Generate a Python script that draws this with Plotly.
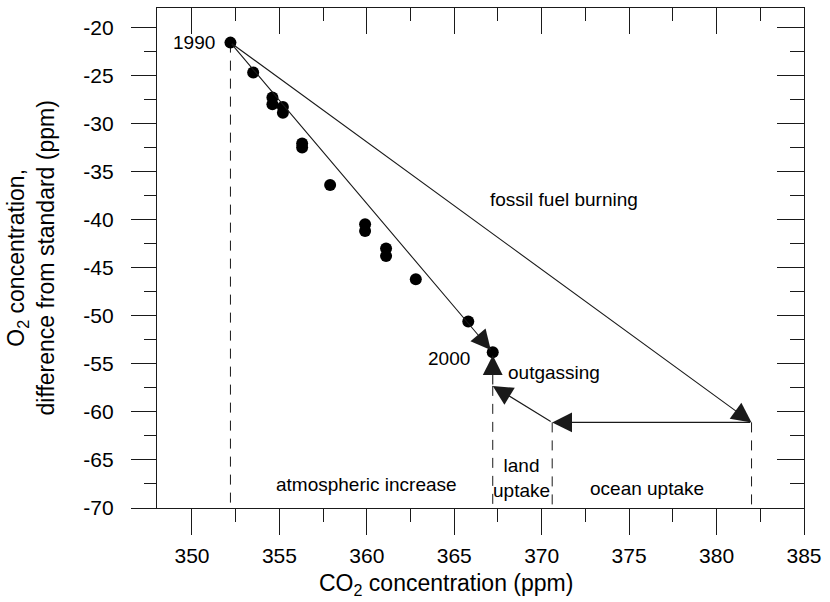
import plotly.graph_objects as go

# Observed annual points: CO2 (ppm) against O2 difference from standard (ppm)
co2_obs = [352.2, 353.5, 354.6, 354.6, 355.2, 355.2, 356.3, 356.3, 357.9,
           359.9, 359.9, 361.1, 361.1, 362.8, 365.8, 367.2]
o2_obs = [-21.6, -24.7, -27.3, -28.0, -28.3, -28.9, -32.1, -32.5, -36.4,
          -40.5, -41.2, -43.0, -43.8, -46.2, -50.6, -53.8]

# Budget vertices: 1990 start, 2000 end, fossil-fuel end, ocean end, land end
vertex_names = ["1990", "2000", "fossil", "ocean", "land"]
vertex_co2 = [352.2, 367.2, 382.0, 370.6, 367.2]
vertex_o2 = [-21.6, -53.8, -61.1, -61.1, -57.3]
V = {n: (c, o) for n, c, o in zip(vertex_names, vertex_co2, vertex_o2)}

# Arrows as (tail, head, standoff)
arrows = [
    ("1990", "fossil", 0),
    ("fossil", "ocean", 0),
    ("ocean", "land", 0),
    ("land", "2000", 3),
    ("1990", "2000", 3),
]

# Vertical dashed guides dropped from these vertices to the bottom axis
guide_vertices = ["1990", "land", "ocean", "fossil"]

x_range = [348, 385]
y_range = [-70, -18]
x_ticks = [350, 355, 360, 365, 370, 375, 380, 385]
y_ticks = [-70, -65, -60, -55, -50, -45, -40, -35, -30, -25, -20]

FONT = "Liberation Sans, Arial, Helvetica, sans-serif"
INK = "#1a1a1a"

fig = go.Figure()

for name in guide_vertices:
    c, o = V[name]
    fig.add_trace(go.Scatter(
        x=[c, c], y=[o, y_range[0]], mode="lines",
        line=dict(color=INK, width=1, dash="10px,8px"),
        hoverinfo="skip", showlegend=False))

fig.add_trace(go.Scatter(
    x=co2_obs, y=o2_obs, mode="markers",
    marker=dict(color="black", size=12),
    showlegend=False))

# Empty trace so the mirrored top/right axes are drawn
fig.add_trace(go.Scatter(x=[], y=[], xaxis="x2", yaxis="y2",
                         showlegend=False, hoverinfo="skip"))

annotations = []
for tail, head, standoff in arrows:
    tx, ty = V[tail]
    hx, hy = V[head]
    annotations.append(dict(
        x=hx, y=hy, ax=tx, ay=ty, xref="x", yref="y", axref="x", ayref="y",
        text="", showarrow=True, arrowhead=2, arrowsize=3.6, arrowwidth=1.1,
        arrowcolor=INK, standoff=standoff))

label_font = dict(family=FONT, size=19, color="black")
labels = [
    dict(x=V["1990"][0], y=V["1990"][1], text="1990", xanchor="right",
         yanchor="middle", xshift=-13),
    dict(x=V["2000"][0], y=V["2000"][1], text="2000", xanchor="right",
         yanchor="middle", xshift=-21, yshift=-6),
    dict(x=367.95, y=-55.9, text="outgassing", xanchor="left", yanchor="middle"),
    dict(x=371.3, y=-37.9, text="fossil fuel burning", xanchor="center",
         yanchor="middle"),
    dict(x=360.0, y=-67.6, text="atmospheric increase", xanchor="center",
         yanchor="middle"),
    dict(x=368.85, y=-66.85, text="land<br>uptake", xanchor="center",
         yanchor="middle"),
    dict(x=376.0, y=-68.0, text="ocean uptake", xanchor="center",
         yanchor="middle"),
]
for lab in labels:
    lab.update(xref="x", yref="y", showarrow=False, font=label_font)
    annotations.append(lab)

# Axis titles placed in paper coordinates
annotations.append(dict(
    text="CO<sub>2</sub> concentration (ppm)", xref="paper", yref="paper",
    x=0.447, y=-0.152, xanchor="center", yanchor="middle",
    showarrow=False, font=dict(family=FONT, size=23, color="black")))
annotations.append(dict(
    text="O<sub>2</sub> concentration,<br>difference from standard (ppm)",
    xref="paper", yref="paper", x=-0.194, y=0.5, xanchor="center",
    yanchor="middle", textangle=-90, showarrow=False,
    font=dict(family=FONT, size=23, color="black")))

axis_common = dict(showgrid=False, zeroline=False, showline=True,
                   linecolor=INK, linewidth=1.2, tickcolor=INK, tickwidth=1)

fig.update_layout(
    width=830, height=602,
    margin=dict(l=157, r=22, t=8, b=94),
    paper_bgcolor="white", plot_bgcolor="white",
    font=dict(family=FONT, color="black"),
    annotations=annotations,
    xaxis=dict(
        range=x_range, tickmode="array", tickvals=x_ticks,
        ticktext=[str(t) for t in x_ticks],
        ticks="outside", ticklen=26, ticklabelstandoff=3,
        tickfont=dict(size=21),
        minor=dict(ticks="outside", ticklen=13, dtick=2.5, tick0=350,
                   tickcolor=INK, tickwidth=1),
        **axis_common),
    xaxis2=dict(
        range=x_range, overlaying="x", side="top", anchor="y",
        tickmode="array", tickvals=x_ticks, showticklabels=False,
        ticks="inside", ticklen=26,
        minor=dict(ticks="inside", ticklen=13, dtick=2.5, tick0=350,
                   tickcolor=INK, tickwidth=1),
        **axis_common),
    yaxis=dict(
        range=y_range, tickmode="array", tickvals=y_ticks,
        ticktext=[str(t) for t in y_ticks],
        ticks="outside", ticklen=25, ticklabelstandoff=13,
        tickfont=dict(size=21),
        minor=dict(ticks="outside", ticklen=12, dtick=2.5, tick0=-70,
                   tickcolor=INK, tickwidth=1),
        **axis_common),
    yaxis2=dict(
        range=y_range, overlaying="y", side="right", anchor="x",
        tickmode="array", tickvals=y_ticks, showticklabels=False,
        ticks="inside", ticklen=27,
        minor=dict(ticks="inside", ticklen=14, dtick=2.5, tick0=-70,
                   tickcolor=INK, tickwidth=1),
        **axis_common),
)

fig.write_html("out.html")
